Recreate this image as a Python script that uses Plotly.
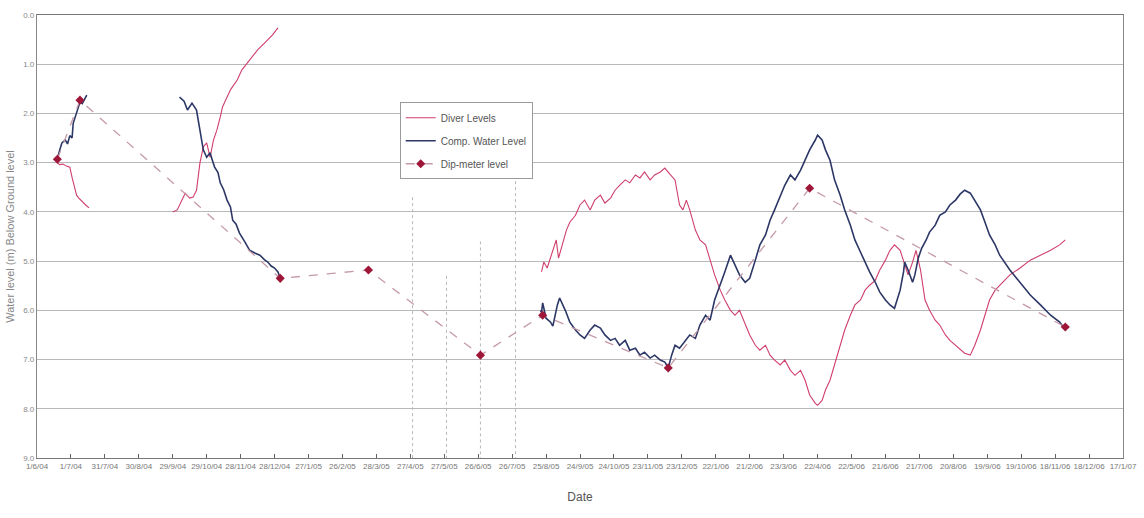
import pandas as pd
import plotly.graph_objects as go

START = pd.Timestamp("2004-06-01")

# ---- data (x = days after 1 June 2004, y = water level in m below ground) ----
diver_days_1 = [16, 18, 20, 23, 26, 29, 31, 33, 35, 37, 40, 43, 46]
diver_vals_1 = [2.93, 3.00, 3.04, 3.03, 3.07, 3.09, 3.30, 3.50, 3.66, 3.72, 3.80, 3.86, 3.92]

diver_days_2 = [120, 124, 131, 135, 138, 141, 144, 147, 150, 153, 156, 159, 162, 164,
                171, 177, 181, 188, 195, 202, 208, 213]
diver_vals_2 = [4.00, 3.96, 3.62, 3.72, 3.70, 3.56, 3.01, 2.68, 2.60, 2.89, 2.54, 2.34,
                2.07, 1.87, 1.52, 1.32, 1.12, 0.91, 0.71, 0.55, 0.41, 0.26]

diver_days_3 = [446, 448, 451, 454, 456, 459, 461, 464, 468, 471, 476, 480, 484, 489, 493,
                498, 502, 507, 511, 515, 520, 524, 529, 533, 537, 542, 546, 551, 555, 560,
                564, 568, 571, 574, 577, 582, 586, 591, 595, 599, 604, 608, 613, 617, 621,
                626, 630, 635, 639, 644, 648, 652, 657, 661, 666, 670, 675, 679, 683, 688,
                690, 694, 697, 701, 705, 710, 714, 719, 723, 728, 732, 736, 741, 745, 750,
                754, 758, 763, 767, 770, 774, 777, 781, 785, 789, 794, 798, 803, 807, 812,
                816, 820, 825, 829, 834, 838, 842, 847, 851, 860, 869, 878, 887, 896, 904, 909]
diver_vals_3 = [5.22, 5.02, 5.14, 4.94, 4.78, 4.57, 4.94, 4.67, 4.37, 4.21, 4.07, 3.86, 3.76,
                3.96, 3.76, 3.66, 3.82, 3.72, 3.56, 3.46, 3.35, 3.41, 3.25, 3.31, 3.19, 3.35,
                3.25, 3.19, 3.11, 3.25, 3.35, 3.86, 3.96, 3.76, 3.96, 4.37, 4.57, 4.67, 4.98,
                5.28, 5.59, 5.79, 6.00, 6.10, 6.00, 6.30, 6.50, 6.71, 6.81, 6.71, 6.91, 7.01,
                7.11, 7.01, 7.22, 7.32, 7.22, 7.42, 7.72, 7.89, 7.93, 7.83, 7.62, 7.42, 7.11,
                6.71, 6.40, 6.10, 5.89, 5.79, 5.59, 5.49, 5.39, 5.18, 4.98, 4.78, 4.67, 4.78,
                5.08, 5.28, 5.02, 4.78, 5.18, 5.79, 6.00, 6.20, 6.30, 6.50, 6.61, 6.71, 6.81,
                6.87, 6.91, 6.71, 6.40, 6.10, 5.79, 5.59, 5.49, 5.28, 5.14, 4.98, 4.88, 4.78,
                4.67, 4.57]

comp_days_1 = [16, 18, 20, 22, 25, 27, 29, 31, 32, 34, 36, 38, 40, 42, 44]
comp_vals_1 = [2.95, 2.91, 2.75, 2.60, 2.54, 2.62, 2.45, 2.50, 2.20, 2.05, 1.93, 1.77, 1.80,
               1.70, 1.63]

comp_days_2 = [126, 130, 133, 137, 141, 144, 147, 150, 153, 155, 157, 160, 162, 165, 168,
               171, 173, 176, 179, 184, 188, 193, 197, 201, 204, 207, 210, 213, 215]
comp_vals_2 = [1.67, 1.75, 1.93, 1.79, 1.93, 2.34, 2.74, 2.89, 2.80, 2.95, 3.09, 3.20, 3.41,
               3.55, 3.76, 3.90, 4.17, 4.25, 4.43, 4.62, 4.78, 4.84, 4.88, 4.97, 5.02, 5.10,
               5.14, 5.22, 5.35]

comp_days_3 = [445, 446, 447, 450, 454, 456, 460, 462, 467, 471, 476, 480, 484, 489, 493,
               498, 502, 507, 511, 515, 520, 524, 529, 533, 537, 542, 546, 551, 555, 558,
               561, 564, 568, 573, 577, 582, 586, 591, 595, 599, 604, 608, 613, 617, 621,
               626, 630, 635, 639, 644, 648, 652, 657, 661, 666, 670, 675, 679, 683, 688,
               690, 694, 697, 701, 705, 710, 714, 719, 723, 728, 732, 736, 741, 745, 750,
               754, 758, 763, 766, 767, 770, 774, 776, 779, 782, 786, 789, 794, 798, 803,
               807, 812, 816, 820, 825, 829, 834, 838, 842, 847, 851, 860, 869, 878, 887,
               896, 904, 909]
comp_vals_3 = [6.00, 6.04, 5.85, 6.16, 6.24, 6.32, 5.89, 5.75, 6.00, 6.24, 6.40, 6.50, 6.57,
               6.40, 6.30, 6.36, 6.50, 6.61, 6.57, 6.71, 6.61, 6.81, 6.77, 6.91, 6.85, 6.97,
               6.91, 7.01, 7.05, 7.17, 6.91, 6.71, 6.77, 6.61, 6.50, 6.57, 6.30, 6.10, 6.20,
               5.79, 5.49, 5.22, 4.88, 5.08, 5.28, 5.43, 5.35, 4.98, 4.67, 4.47, 4.17, 3.96,
               3.66, 3.46, 3.25, 3.35, 3.15, 2.95, 2.74, 2.54, 2.44, 2.54, 2.74, 2.95, 3.35,
               3.66, 3.96, 4.27, 4.57, 4.82, 5.02, 5.22, 5.43, 5.63, 5.79, 5.89, 5.96, 5.59,
               5.22, 5.02, 5.18, 5.43, 5.28, 4.94, 4.74, 4.57, 4.41, 4.27, 4.07, 4.00, 3.86,
               3.76, 3.64, 3.56, 3.62, 3.76, 3.96, 4.21, 4.47, 4.67, 4.88, 5.18, 5.43, 5.69,
               5.89, 6.10, 6.24, 6.40]

dip_days = [18, 38, 215, 293, 392, 447, 558, 683, 909]
dip_vals = [2.93, 1.73, 5.35, 5.18, 6.91, 6.10, 7.17, 3.52, 6.34]

# dotted vertical reference lines (days) and the level where each one starts
ref_days = [332, 362, 392, 423]
ref_tops = [3.7, 5.3, 4.6, 2.4]

tick_step_days = 30
n_ticks = 33
y_ticks = [0, 1, 2, 3, 4, 5, 6, 7, 8, 9]
y_labels = ["0.0", "1.0", "2.0", "3.0", "4.0", "5.0", "6.0", "7.0", "8.0", "9.0"]


def to_dates(days):
    return START + pd.to_timedelta(days, unit="D")


DIVER = "#cf3f6c"
COMP = "#2c3766"
DIP_LINE = "#c59aa8"
DIP_MARK = "#9e1638"
FONT = "Liberation Sans Narrow, Arial Narrow, Liberation Sans, sans-serif"

fig = go.Figure()

for i, (d, v) in enumerate([(diver_days_1, diver_vals_1), (diver_days_2, diver_vals_2),
                            (diver_days_3, diver_vals_3)]):
    fig.add_trace(go.Scatter(x=to_dates(d), y=v, mode="lines", name="Diver Levels",
                             legendgroup="diver", showlegend=(i == 0),
                             line=dict(color=DIVER, width=1.1)))

for i, (d, v) in enumerate([(comp_days_1, comp_vals_1), (comp_days_2, comp_vals_2),
                            (comp_days_3, comp_vals_3)]):
    fig.add_trace(go.Scatter(x=to_dates(d), y=v, mode="lines", name="Comp. Water Level",
                             legendgroup="comp", showlegend=(i == 0),
                             line=dict(color=COMP, width=1.6)))

fig.add_trace(go.Scatter(x=to_dates(dip_days), y=dip_vals, mode="lines+markers",
                         name="Dip-meter level", legendgroup="dip",
                         line=dict(color=DIP_LINE, width=1.3, dash="dash"),
                         marker=dict(color=DIP_MARK, size=7, symbol="diamond")))

for d, top in zip(ref_days, ref_tops):
    fig.add_shape(type="line", xref="x", yref="y",
                  x0=to_dates([d])[0], x1=to_dates([d])[0], y0=top, y1=9,
                  line=dict(color="#b8b8b8", width=1, dash="dot"), layer="below")

tickvals = to_dates([i * tick_step_days for i in range(n_ticks)])

fig.update_layout(
    width=1144, height=518, autosize=False,
    margin=dict(l=37, r=21, t=15, b=60, autoexpand=False),
    paper_bgcolor="white", plot_bgcolor="white",
    font=dict(family=FONT, color="#666666", size=9),
    showlegend=True,
    legend=dict(x=0.334, y=0.803, xanchor="left", yanchor="top",
                bgcolor="white", bordercolor="#9a9a9a", borderwidth=1,
                font=dict(family=FONT, size=10, color="#555555"),
                tracegroupgap=4, itemwidth=30),
    xaxis=dict(
        type="date", automargin=False,
        range=[tickvals[0], tickvals[-1]],
        tickvals=list(tickvals), tickformat="%-d/%-m/%y",
        ticks="inside", ticklen=4, tickcolor="#666666",
        showgrid=False, showline=True, linecolor="#777777", linewidth=1.2,
        mirror=True, zeroline=False,
        tickfont=dict(family=FONT, size=8, color="#777777"),
        title=dict(text="Date", font=dict(family=FONT, size=12, color="#555555"),
                   standoff=22),
    ),
    yaxis=dict(
        range=[9, 0], automargin=False,
        tickvals=y_ticks, ticktext=y_labels,
        showgrid=True, gridcolor="#b8b8b8", gridwidth=1,
        showline=True, linecolor="#888888", linewidth=1.2, mirror=True,
        zeroline=False, ticks="",
        tickfont=dict(family=FONT, size=8, color="#888888"),
        title=dict(text="Water level (m) Below Ground level",
                   font=dict(family=FONT, size=11, color="#888888"), standoff=6),
    ),
)

fig.write_html("out.html", config={"displayModeBar": False},
               post_script="document.body.style.margin='0';document.body.style.padding='0';")
